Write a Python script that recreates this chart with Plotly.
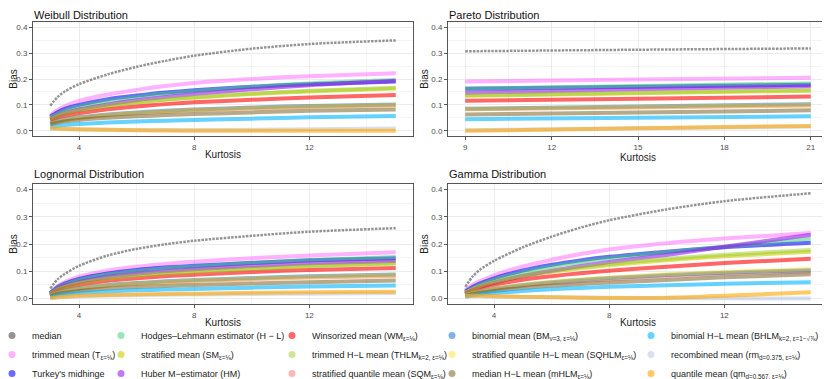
import plotly.graph_objects as go
from plotly.subplots import make_subplots

# estimator labels (legend order, column-major as in the original)
ESTIMATORS = [
    "median",
    "trimmed mean (T<sub>ε=⅛</sub>)",
    "Turkey's midhinge",
    "Hodges–Lehmann estimator (H − L)",
    "stratified mean (SM<sub>ε=⅛</sub>)",
    "Huber M−estimator (HM)",
    "Winsorized mean (WM<sub>ε=⅛</sub>)",
    "trimmed H−L mean (THLM<sub>k=2, ε=⅛</sub>)",
    "stratified quantile mean (SQM<sub>ε=⅛</sub>)",
    "binomial mean (BM<sub>ν=3, ε=⅛</sub>)",
    "stratified quantile H−L mean (SQHLM<sub>ε=⅛</sub>)",
    "median H−L mean (mHLM<sub>ε=⅛</sub>)",
    "binomial H−L mean (BHLM<sub>k=2, ε=1−√⅞</sub>)",
    "recombined mean (rm<sub>d=0.375, ε=⅛</sub>)",
    "quantile mean (qm<sub>d=0.567, ε=⅛</sub>)",
]

COLORS = [
    "rgba(90,90,90,0.65)",
    "rgba(255,102,255,0.5)",
    "rgba(0,0,255,0.58)",
    "rgba(51,205,110,0.5)",
    "rgba(205,205,0,0.6)",
    "rgba(150,30,240,0.6)",
    "rgba(255,0,0,0.6)",
    "rgba(154,205,50,0.5)",
    "rgba(255,110,110,0.5)",
    "rgba(24,116,205,0.55)",
    "rgba(255,215,0,0.4)",
    "rgba(110,85,20,0.5)",
    "rgba(0,180,255,0.6)",
    "rgba(176,196,222,0.5)",
    "rgba(255,165,0,0.6)",
]

# kurtosis values where the curves were read
kurt = [3, 3.25, 3.5, 4, 5, 6, 7, 8, 10, 12, 15]
kurt_pareto = [9, 15, 21]

weibull_bias = [
    [0.097, 0.13, 0.152, 0.18, 0.218, 0.247, 0.27, 0.29, 0.317, 0.335, 0.349],
    [0.06, 0.08, 0.095, 0.115, 0.14, 0.158, 0.173, 0.185, 0.2, 0.211, 0.222],
    [0.055, 0.072, 0.085, 0.1, 0.122, 0.136, 0.148, 0.157, 0.17, 0.18, 0.19],
    [0.05, 0.066, 0.078, 0.093, 0.114, 0.13, 0.143, 0.153, 0.17, 0.183, 0.196],
    [0.045, 0.057, 0.066, 0.079, 0.096, 0.109, 0.12, 0.128, 0.142, 0.152, 0.163],
    [0.045, 0.058, 0.068, 0.082, 0.102, 0.118, 0.131, 0.142, 0.16, 0.176, 0.193],
    [0.04, 0.05, 0.058, 0.068, 0.083, 0.094, 0.103, 0.11, 0.12, 0.129, 0.138],
    [0.045, 0.058, 0.067, 0.08, 0.097, 0.11, 0.121, 0.13, 0.144, 0.155, 0.166],
    [0.028, 0.035, 0.041, 0.049, 0.06, 0.068, 0.074, 0.079, 0.087, 0.093, 0.099],
    [0.03, 0.038, 0.044, 0.052, 0.063, 0.071, 0.077, 0.082, 0.09, 0.096, 0.102],
    [0.028, 0.036, 0.042, 0.05, 0.061, 0.069, 0.075, 0.08, 0.088, 0.094, 0.1],
    [0.025, 0.031, 0.036, 0.042, 0.05, 0.056, 0.061, 0.065, 0.071, 0.077, 0.082],
    [0.015, 0.019, 0.022, 0.026, 0.032, 0.036, 0.039, 0.042, 0.047, 0.052, 0.057],
    [0.008, 0.007, 0.006, 0.005, 0.004, 0.003, 0.003, 0.003, 0.004, 0.006, 0.009],
    [0.01, 0.009, 0.008, 0.006, 0.004, 0.002, 0.001, 0.0, 0.0, 0.0, 0.0],
]

pareto_bias = [
    [0.307, 0.313, 0.318],
    [0.19, 0.198, 0.205],
    [0.162, 0.17, 0.178],
    [0.163, 0.173, 0.183],
    [0.135, 0.145, 0.155],
    [0.147, 0.16, 0.172],
    [0.116, 0.124, 0.132],
    [0.137, 0.147, 0.157],
    [0.083, 0.09, 0.098],
    [0.085, 0.094, 0.103],
    [0.084, 0.092, 0.1],
    [0.063, 0.071, 0.079],
    [0.045, 0.05, 0.056],
    [0.002, 0.01, 0.017],
    [0.0, 0.01, 0.019],
]

lognormal_bias = [
    [0.037, 0.07, 0.09, 0.12, 0.158, 0.182, 0.199, 0.212, 0.23, 0.245, 0.258],
    [0.018, 0.045, 0.06, 0.08, 0.103, 0.117, 0.127, 0.135, 0.148, 0.158, 0.17],
    [0.02, 0.042, 0.055, 0.072, 0.092, 0.105, 0.114, 0.12, 0.131, 0.14, 0.148],
    [0.018, 0.04, 0.052, 0.068, 0.088, 0.1, 0.11, 0.117, 0.13, 0.14, 0.152],
    [0.016, 0.034, 0.044, 0.057, 0.074, 0.085, 0.093, 0.1, 0.111, 0.12, 0.13],
    [0.016, 0.035, 0.046, 0.06, 0.079, 0.091, 0.1, 0.107, 0.119, 0.129, 0.138],
    [0.014, 0.029, 0.038, 0.05, 0.065, 0.074, 0.082, 0.087, 0.097, 0.105, 0.112],
    [0.015, 0.033, 0.043, 0.056, 0.073, 0.084, 0.092, 0.098, 0.109, 0.118, 0.128],
    [0.009, 0.02, 0.027, 0.035, 0.047, 0.054, 0.06, 0.064, 0.071, 0.077, 0.083],
    [0.01, 0.022, 0.029, 0.038, 0.05, 0.057, 0.063, 0.068, 0.075, 0.082, 0.088],
    [0.01, 0.021, 0.028, 0.037, 0.048, 0.055, 0.061, 0.066, 0.073, 0.079, 0.085],
    [0.007, 0.016, 0.021, 0.028, 0.037, 0.042, 0.046, 0.05, 0.055, 0.06, 0.066],
    [0.005, 0.011, 0.015, 0.02, 0.026, 0.03, 0.033, 0.035, 0.04, 0.044, 0.048],
    [0.001, 0.004, 0.006, 0.008, 0.011, 0.013, 0.014, 0.015, 0.017, 0.018, 0.02],
    [0.002, 0.005, 0.007, 0.01, 0.013, 0.015, 0.017, 0.018, 0.021, 0.023, 0.025],
]

gamma_bias = [
    [0.043, 0.08, 0.105, 0.138, 0.188, 0.227, 0.26, 0.287, 0.327, 0.357, 0.386],
    [0.03, 0.05, 0.063, 0.085, 0.118, 0.142, 0.163, 0.18, 0.203, 0.22, 0.24],
    [0.025, 0.042, 0.055, 0.074, 0.103, 0.124, 0.14, 0.153, 0.172, 0.188, 0.205],
    [0.022, 0.038, 0.05, 0.068, 0.096, 0.117, 0.134, 0.148, 0.17, 0.19, 0.22],
    [0.02, 0.034, 0.044, 0.059, 0.082, 0.098, 0.111, 0.122, 0.14, 0.155, 0.172],
    [0.018, 0.032, 0.042, 0.058, 0.083, 0.102, 0.119, 0.134, 0.16, 0.19, 0.234],
    [0.017, 0.029, 0.037, 0.05, 0.069, 0.082, 0.093, 0.102, 0.117, 0.13, 0.146],
    [0.02, 0.034, 0.045, 0.06, 0.084, 0.101, 0.115, 0.127, 0.146, 0.161, 0.178],
    [0.011, 0.019, 0.025, 0.034, 0.047, 0.057, 0.064, 0.071, 0.082, 0.091, 0.1],
    [0.012, 0.02, 0.026, 0.036, 0.05, 0.06, 0.068, 0.075, 0.086, 0.095, 0.104],
    [0.012, 0.021, 0.027, 0.037, 0.051, 0.062, 0.07, 0.077, 0.089, 0.098, 0.108],
    [0.009, 0.015, 0.02, 0.028, 0.039, 0.047, 0.053, 0.059, 0.068, 0.078, 0.089],
    [0.006, 0.011, 0.015, 0.02, 0.028, 0.034, 0.039, 0.043, 0.049, 0.054, 0.06],
    [0.008, 0.008, 0.008, 0.007, 0.006, 0.005, 0.004, 0.003, 0.002, 0.001, 0.0],
    [0.01, 0.01, 0.01, 0.009, 0.007, 0.005, 0.003, 0.002, 0.003, 0.01, 0.023],
]

PANELS = [
    ("Weibull Distribution", kurt, weibull_bias, 1, 1),
    ("Pareto Distribution", kurt_pareto, pareto_bias, 1, 2),
    ("Lognormal Distribution", kurt, lognormal_bias, 2, 1),
    ("Gamma Distribution", kurt, gamma_bias, 2, 2),
]

# the page body has an 8px margin, so the figure fills what is left of the window
OFF = 8
W, H = 830 - OFF, 379 - OFF
fig = make_subplots(rows=2, cols=2)

for title, xs, bias, r, c in PANELS:
    for i, name in enumerate(ESTIMATORS):
        line = dict(color=COLORS[i], width=4, shape="spline", smoothing=0.8)
        if i == 0:
            line.update(width=2.5, dash="2.5px,1.2px")
        fig.add_trace(go.Scatter(x=xs, y=bias[i], mode="lines", line=line,
                                 showlegend=False, hoverinfo="skip"), row=r, col=c)

# legend: five columns of three entries, each column its own legend
leg_marker_x = [12, 121, 292, 452, 651]
for i, name in enumerate(ESTIMATORS):
    col = i // 3
    fig.add_trace(go.Scatter(x=[None], y=[None], mode="markers", name=name,
                             marker=dict(color=COLORS[i], size=7),
                             legend="legend" if col == 0 else f"legend{col + 1}"))

leg_common = dict(orientation="v", yanchor="top", y=1 - 313 / H, bgcolor="rgba(0,0,0,0)",
                  font=dict(family="Liberation Sans, Arial", size=9, color="#1a1a1a"),
                  tracegroupgap=0, itemclick=False, itemdoubleclick=False)
legends = {}
for k, mx in enumerate(leg_marker_x):
    key = "legend" if k == 0 else f"legend{k + 1}"
    legends[key] = dict(leg_common, x=(mx - 20 - OFF) / W, xanchor="left")
fig.update_layout(**legends)

# panel geometry (window pixels)
xdom = [(33, 413), (448, 828)]
ydom = [(22, 136), (184, 304)]
title_y = [15, 174]
annotations = []
for title, xs, bias, r, c in PANELS:
    x0, x1 = [v - OFF for v in xdom[c - 1]]
    y0, y1 = [v - OFF for v in ydom[r - 1]]
    idx = (r - 1) * 2 + c
    xa = "xaxis" if idx == 1 else f"xaxis{idx}"
    ya = "yaxis" if idx == 1 else f"yaxis{idx}"
    if title.startswith("Pareto"):
        xr, dt, mdt = [8.4, 21.6], 3, 1.5
    else:
        xr, dt, mdt = [2.4, 15.6], 4, 2
    fig.layout[xa].update(domain=[x0 / W, x1 / W], range=xr, tick0=0, dtick=dt,
                          minor=dict(showgrid=True, gridcolor="#f4f4f4", dtick=mdt, tick0=0),
                          title=dict(text="Kurtosis", standoff=0,
                                     font=dict(size=10, color="#222")))
    fig.layout[ya].update(domain=[1 - y1 / H, 1 - y0 / H], range=[-0.02, 0.42], tick0=0,
                          dtick=0.1, tickformat=".1f",
                          minor=dict(showgrid=True, gridcolor="#f4f4f4", dtick=0.05, tick0=0),
                          title=dict(text="Bias", standoff=0,
                                     font=dict(size=10, color="#222")))
    annotations.append(dict(text=title, x=x0 / W, y=1 - (title_y[r - 1] - OFF) / H,
                            xref="paper", yref="paper", xanchor="left", yanchor="middle",
                            showarrow=False, xshift=-1, font=dict(size=11, color="#111")))

fig.update_xaxes(showgrid=True, gridcolor="#ebebeb", zeroline=False, showline=True,
                 mirror=True, linecolor="#555", linewidth=1, ticks="outside", ticklen=3,
                 tickcolor="#555", tickfont=dict(size=8, color="#4d4d4d"))
fig.update_yaxes(showgrid=True, gridcolor="#ebebeb", zeroline=False, showline=True,
                 mirror=True, linecolor="#555", linewidth=1, ticks="outside", ticklen=3,
                 tickcolor="#555", tickfont=dict(size=8, color="#4d4d4d"))

fig.update_layout(width=W, height=H,
                  margin=dict(l=0, r=0, t=0, b=0, autoexpand=False),
                  plot_bgcolor="white", paper_bgcolor="white",
                  font=dict(family="Liberation Sans, Arial"),
                  annotations=annotations)

fig.write_html("out.html")
